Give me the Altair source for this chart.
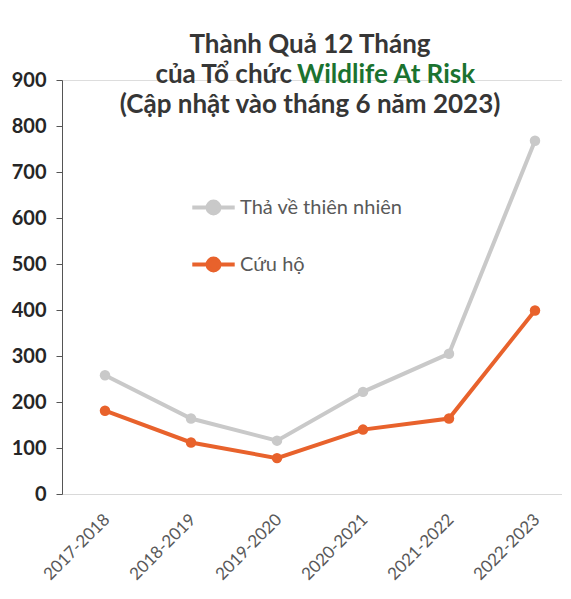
import altair as alt
import pandas as pd

years = ["2017-2018", "2018-2019", "2019-2020", "2020-2021", "2021-2022", "2022-2023"]
released = [258, 164, 116, 222, 305, 768]
rescued = [181, 112, 78, 140, 164, 399]
series_names = ["Thả về thiên nhiên", "Cứu hộ"]
series_colors = ["#c9c9c9", "#e8622c"]

rows = []
for y, a, b in zip(years, released, rescued):
    rows.append({"year": y, "series": series_names[0], "value": a})
    rows.append({"year": y, "series": series_names[1], "value": b})
df = pd.DataFrame(rows)

FONT = "Lato"

base = alt.Chart(df).encode(
    x=alt.X("year:O", sort=years, title=None,
            scale=alt.Scale(paddingInner=1, paddingOuter=0.5, range=[0, 516]),
            axis=alt.Axis(labelAngle=315, labelFontSize=17, labelColor="#595959",
                          labelFont=FONT, ticks=False, domainColor="#d9d9d9",
                          labelAlign="right", labelBaseline="top", labelPadding=17,
                          labelOffset=-4)),
    y=alt.Y("value:Q", title=None,
            scale=alt.Scale(domain=[0, 900], nice=False),
            axis=alt.Axis(values=list(range(0, 901, 100)), grid=False,
                          labelFontSize=20, labelFontWeight="bold", labelColor="#262626",
                          labelFont=FONT, tickColor="#555555", domainColor="#555555",
                          tickSize=6, labelPadding=10)),
    color=alt.Color("series:N",
                    scale=alt.Scale(domain=series_names, range=series_colors),
                    legend=alt.Legend(title=None, orient="none", legendX=128, legendY=104,
                                      direction="vertical",
                                      symbolType="M-1,0H1M0.28,0A0.28,0.28,0,1,1,-0.28,0A0.28,0.28,0,1,1,0.28,0",
                                      symbolSize=1800, symbolStrokeWidth=4,
                                      labelFontSize=20, labelColor="#595959", labelFont=FONT,
                                      labelLimit=400,
                                      rowPadding=19, labelOffset=3)),
)

lines = base.mark_line(strokeWidth=4, point=alt.OverlayMarkDef(filled=True, size=110))

title_df = pd.DataFrame({"t": [0]})
TS = 26
t1 = alt.Chart(title_df).mark_text(text="Thành Quả 12 Tháng", fontSize=TS, fontWeight="bold",
                                   font=FONT, color="#363636", align="center", baseline="middle"
                                   ).encode(x=alt.value(248), y=alt.value(-35))
t2a = alt.Chart(title_df).mark_text(text="của Tổ chức", fontSize=TS, fontWeight="bold",
                                    font=FONT, color="#363636", align="right", baseline="middle"
                                    ).encode(x=alt.value(230), y=alt.value(-5))
t2b = alt.Chart(title_df).mark_text(text="Wildlife At Risk", fontSize=TS, fontWeight="bold",
                                    font=FONT, color="#1b7330", align="left", baseline="middle"
                                    ).encode(x=alt.value(235), y=alt.value(-5))
t3 = alt.Chart(title_df).mark_text(text="(Cập nhật vào tháng 6 năm 2023)", fontSize=TS,
                                   fontWeight="bold", font=FONT, color="#363636",
                                   align="center", baseline="middle"
                                   ).encode(x=alt.value(248), y=alt.value(25))

chart = alt.layer(lines, t1, t2a, t2b, t3).properties(
    width=500, height=414,
    autosize=alt.AutoSizeParams(type="none"),
    padding={"left": 54, "top": 72, "right": 0, "bottom": 90},
).configure_view(stroke=None).configure(background="white")

chart.save("out.html", embed_options={"renderer": "svg", "actions": False})
